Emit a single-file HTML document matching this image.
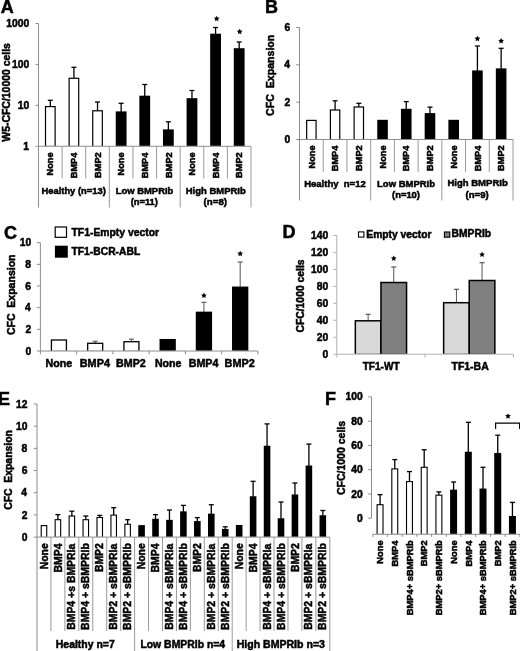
<!DOCTYPE html>
<html><head><meta charset="utf-8"><title>Figure</title>
<style>
html,body{margin:0;padding:0;background:#fff;}
body{width:520px;height:651px;overflow:hidden;}
svg{display:block;filter:grayscale(1);}
text{font-family:"Liberation Sans",sans-serif;font-weight:bold;fill:#000;stroke:#000;stroke-width:0.5px;}
</style></head>
<body>
<svg width="520" height="651" viewBox="0 0 520 651" shape-rendering="auto">
<text transform="translate(0.65,12.90) scale(1,1.02)" font-size="18.00">A</text>
<line x1="38.50" y1="23.50" x2="38.50" y2="207.50" stroke="#8c8c8c" stroke-width="1.0"/>
<line x1="35.50" y1="23.50" x2="38.50" y2="23.50" stroke="#8c8c8c" stroke-width="1.0"/>
<text transform="translate(6.32,27.09) scale(1,1.02)" font-size="10.30">1000</text>
<line x1="35.50" y1="64.40" x2="38.50" y2="64.40" stroke="#8c8c8c" stroke-width="1.0"/>
<text transform="translate(12.04,67.99) scale(1,1.02)" font-size="10.30">100</text>
<line x1="35.50" y1="105.30" x2="38.50" y2="105.30" stroke="#8c8c8c" stroke-width="1.0"/>
<text transform="translate(17.78,108.89) scale(1,1.02)" font-size="10.30">10</text>
<line x1="35.50" y1="146.30" x2="38.50" y2="146.30" stroke="#8c8c8c" stroke-width="1.0"/>
<text transform="translate(23.37,149.89) scale(1,1.02)" font-size="10.30">1</text>
<text transform="translate(9.99,141.63) rotate(-90)" font-size="10.43">W5-CFC/10000 cells</text>
<line x1="38.50" y1="146.30" x2="251.00" y2="146.30" stroke="#8c8c8c" stroke-width="1.0"/>
<line x1="50.31" y1="106.60" x2="50.31" y2="100.30" stroke="#000" stroke-width="1.3"/>
<line x1="47.81" y1="100.30" x2="52.81" y2="100.30" stroke="#000" stroke-width="1.3"/>
<rect x="44.91" y="106.00" width="10.80" height="39.80" fill="#000"/>
<rect x="46.11" y="107.20" width="8.40" height="38.60" fill="#fff"/>
<line x1="73.92" y1="78.30" x2="73.92" y2="67.30" stroke="#000" stroke-width="1.3"/>
<line x1="71.42" y1="67.30" x2="76.42" y2="67.30" stroke="#000" stroke-width="1.3"/>
<rect x="68.52" y="77.70" width="10.80" height="68.10" fill="#000"/>
<rect x="69.72" y="78.90" width="8.40" height="66.90" fill="#fff"/>
<line x1="97.53" y1="110.80" x2="97.53" y2="102.00" stroke="#000" stroke-width="1.3"/>
<line x1="95.03" y1="102.00" x2="100.03" y2="102.00" stroke="#000" stroke-width="1.3"/>
<rect x="92.13" y="110.20" width="10.80" height="35.60" fill="#000"/>
<rect x="93.33" y="111.40" width="8.40" height="34.40" fill="#fff"/>
<line x1="121.14" y1="112.00" x2="121.14" y2="103.30" stroke="#000" stroke-width="1.3"/>
<line x1="118.64" y1="103.30" x2="123.64" y2="103.30" stroke="#000" stroke-width="1.3"/>
<rect x="115.74" y="111.40" width="10.80" height="34.40" fill="#000"/>
<line x1="144.75" y1="96.30" x2="144.75" y2="84.50" stroke="#000" stroke-width="1.3"/>
<line x1="142.25" y1="84.50" x2="147.25" y2="84.50" stroke="#000" stroke-width="1.3"/>
<rect x="139.35" y="95.70" width="10.80" height="50.10" fill="#000"/>
<line x1="168.36" y1="130.00" x2="168.36" y2="121.80" stroke="#000" stroke-width="1.3"/>
<line x1="165.86" y1="121.80" x2="170.86" y2="121.80" stroke="#000" stroke-width="1.3"/>
<rect x="162.96" y="129.40" width="10.80" height="16.40" fill="#000"/>
<line x1="191.97" y1="98.80" x2="191.97" y2="90.50" stroke="#000" stroke-width="1.3"/>
<line x1="189.47" y1="90.50" x2="194.47" y2="90.50" stroke="#000" stroke-width="1.3"/>
<rect x="186.57" y="98.20" width="10.80" height="47.60" fill="#000"/>
<line x1="215.58" y1="34.30" x2="215.58" y2="27.50" stroke="#000" stroke-width="1.3"/>
<line x1="213.08" y1="27.50" x2="218.08" y2="27.50" stroke="#000" stroke-width="1.3"/>
<rect x="210.18" y="33.70" width="10.80" height="112.10" fill="#000"/>
<polygon points="216.68,15.80 217.57,17.59 219.54,17.87 218.11,19.26 218.45,21.23 216.68,20.30 214.92,21.23 215.26,19.26 213.83,17.87 215.80,17.59" fill="#000"/>
<line x1="239.19" y1="48.80" x2="239.19" y2="42.00" stroke="#000" stroke-width="1.3"/>
<line x1="236.69" y1="42.00" x2="241.69" y2="42.00" stroke="#000" stroke-width="1.3"/>
<rect x="233.79" y="48.20" width="10.80" height="97.60" fill="#000"/>
<polygon points="239.69,28.80 240.58,30.59 242.55,30.87 241.12,32.26 241.46,34.23 239.69,33.30 237.93,34.23 238.27,32.26 236.84,30.87 238.81,30.59" fill="#000"/>
<line x1="62.11" y1="146.30" x2="62.11" y2="178.50" stroke="#9a9a9a" stroke-width="1.0"/>
<line x1="85.72" y1="146.30" x2="85.72" y2="178.50" stroke="#9a9a9a" stroke-width="1.0"/>
<line x1="109.33" y1="146.30" x2="109.33" y2="207.50" stroke="#9a9a9a" stroke-width="1.0"/>
<line x1="132.94" y1="146.30" x2="132.94" y2="178.50" stroke="#9a9a9a" stroke-width="1.0"/>
<line x1="156.56" y1="146.30" x2="156.56" y2="178.50" stroke="#9a9a9a" stroke-width="1.0"/>
<line x1="180.17" y1="146.30" x2="180.17" y2="207.50" stroke="#9a9a9a" stroke-width="1.0"/>
<line x1="203.78" y1="146.30" x2="203.78" y2="178.50" stroke="#9a9a9a" stroke-width="1.0"/>
<line x1="227.39" y1="146.30" x2="227.39" y2="178.50" stroke="#9a9a9a" stroke-width="1.0"/>
<line x1="251.00" y1="146.30" x2="251.00" y2="207.50" stroke="#9a9a9a" stroke-width="1.0"/>
<text transform="translate(53.47,175.40) rotate(-90)" font-size="9.20">None</text>
<text transform="translate(77.08,178.21) rotate(-90)" font-size="9.20">BMP4</text>
<text transform="translate(100.69,177.89) rotate(-90)" font-size="9.20">BMP2</text>
<text transform="translate(124.30,175.40) rotate(-90)" font-size="9.20">None</text>
<text transform="translate(147.91,178.21) rotate(-90)" font-size="9.20">BMP4</text>
<text transform="translate(171.53,177.89) rotate(-90)" font-size="9.20">BMP2</text>
<text transform="translate(195.14,175.40) rotate(-90)" font-size="9.20">None</text>
<text transform="translate(218.75,178.21) rotate(-90)" font-size="9.20">BMP4</text>
<text transform="translate(242.36,177.89) rotate(-90)" font-size="9.20">BMP2</text>
<text transform="translate(41.47,194.20) scale(1,1.02)" font-size="9.38">Healthy (n=13)</text>
<text transform="translate(115.76,194.10) scale(1,1.02)" font-size="9.43">Low BMPRIb</text>
<text transform="translate(130.73,204.90) scale(1,1.02)" font-size="9.33">(n=11)</text>
<text transform="translate(185.76,193.80) scale(1,1.02)" font-size="9.48">High BMPRIb</text>
<text transform="translate(203.61,204.60) scale(1,1.02)" font-size="9.71">(n=8)</text>
<text transform="translate(264.99,12.60) scale(1,1.02)" font-size="18.00">B</text>
<line x1="299.50" y1="27.50" x2="299.50" y2="200.50" stroke="#8c8c8c" stroke-width="1.0"/>
<line x1="296.20" y1="139.50" x2="299.50" y2="139.50" stroke="#8c8c8c" stroke-width="1.0"/>
<text transform="translate(284.60,143.09) scale(1,1.02)" font-size="10.30">0</text>
<line x1="296.20" y1="102.17" x2="299.50" y2="102.17" stroke="#8c8c8c" stroke-width="1.0"/>
<text transform="translate(284.60,105.76) scale(1,1.02)" font-size="10.30">2</text>
<line x1="296.20" y1="64.83" x2="299.50" y2="64.83" stroke="#8c8c8c" stroke-width="1.0"/>
<text transform="translate(284.23,68.43) scale(1,1.02)" font-size="10.30">4</text>
<line x1="296.20" y1="27.50" x2="299.50" y2="27.50" stroke="#8c8c8c" stroke-width="1.0"/>
<text transform="translate(284.54,31.09) scale(1,1.02)" font-size="10.30">6</text>
<text transform="translate(274.45,115.92) rotate(-90)" font-size="10.60" xml:space="preserve">CFC  Expansion</text>
<line x1="299.50" y1="139.50" x2="513.00" y2="139.50" stroke="#8c8c8c" stroke-width="1.0"/>
<rect x="306.06" y="119.80" width="10.60" height="19.20" fill="#000"/>
<rect x="307.26" y="121.00" width="8.20" height="18.00" fill="#fff"/>
<line x1="335.08" y1="110.00" x2="335.08" y2="100.80" stroke="#000" stroke-width="1.3"/>
<line x1="332.58" y1="100.80" x2="337.58" y2="100.80" stroke="#000" stroke-width="1.3"/>
<rect x="329.78" y="109.40" width="10.60" height="29.60" fill="#000"/>
<rect x="330.98" y="110.60" width="8.20" height="28.40" fill="#fff"/>
<line x1="358.81" y1="107.00" x2="358.81" y2="103.30" stroke="#000" stroke-width="1.3"/>
<line x1="356.31" y1="103.30" x2="361.31" y2="103.30" stroke="#000" stroke-width="1.3"/>
<rect x="353.51" y="106.40" width="10.60" height="32.60" fill="#000"/>
<rect x="354.71" y="107.60" width="8.20" height="31.40" fill="#fff"/>
<rect x="377.23" y="119.80" width="10.60" height="19.20" fill="#000"/>
<line x1="406.25" y1="109.40" x2="406.25" y2="101.60" stroke="#000" stroke-width="1.3"/>
<line x1="403.75" y1="101.60" x2="408.75" y2="101.60" stroke="#000" stroke-width="1.3"/>
<rect x="400.95" y="108.80" width="10.60" height="30.20" fill="#000"/>
<line x1="429.97" y1="113.70" x2="429.97" y2="107.10" stroke="#000" stroke-width="1.3"/>
<line x1="427.47" y1="107.10" x2="432.47" y2="107.10" stroke="#000" stroke-width="1.3"/>
<rect x="424.67" y="113.10" width="10.60" height="25.90" fill="#000"/>
<rect x="448.39" y="119.80" width="10.60" height="19.20" fill="#000"/>
<line x1="477.42" y1="71.00" x2="477.42" y2="46.00" stroke="#000" stroke-width="1.3"/>
<line x1="474.92" y1="46.00" x2="479.92" y2="46.00" stroke="#000" stroke-width="1.3"/>
<rect x="472.12" y="70.40" width="10.60" height="68.60" fill="#000"/>
<polygon points="477.42,35.70 478.30,37.49 480.27,37.77 478.84,39.16 479.18,41.13 477.42,40.20 475.65,41.13 475.99,39.16 474.56,37.77 476.53,37.49" fill="#000"/>
<line x1="501.14" y1="69.00" x2="501.14" y2="48.30" stroke="#000" stroke-width="1.3"/>
<line x1="498.64" y1="48.30" x2="503.64" y2="48.30" stroke="#000" stroke-width="1.3"/>
<rect x="495.84" y="68.40" width="10.60" height="70.60" fill="#000"/>
<polygon points="501.14,38.00 502.02,39.79 503.99,40.07 502.57,41.46 502.90,43.43 501.14,42.50 499.38,43.43 499.71,41.46 498.29,40.07 500.26,39.79" fill="#000"/>
<line x1="323.22" y1="139.50" x2="323.22" y2="172.00" stroke="#9a9a9a" stroke-width="1.0"/>
<line x1="346.94" y1="139.50" x2="346.94" y2="172.00" stroke="#9a9a9a" stroke-width="1.0"/>
<line x1="370.67" y1="139.50" x2="370.67" y2="200.50" stroke="#9a9a9a" stroke-width="1.0"/>
<line x1="394.39" y1="139.50" x2="394.39" y2="172.00" stroke="#9a9a9a" stroke-width="1.0"/>
<line x1="418.11" y1="139.50" x2="418.11" y2="172.00" stroke="#9a9a9a" stroke-width="1.0"/>
<line x1="441.83" y1="139.50" x2="441.83" y2="200.50" stroke="#9a9a9a" stroke-width="1.0"/>
<line x1="465.56" y1="139.50" x2="465.56" y2="172.00" stroke="#9a9a9a" stroke-width="1.0"/>
<line x1="489.28" y1="139.50" x2="489.28" y2="172.00" stroke="#9a9a9a" stroke-width="1.0"/>
<line x1="513.00" y1="139.50" x2="513.00" y2="200.50" stroke="#9a9a9a" stroke-width="1.0"/>
<text transform="translate(314.53,168.40) rotate(-90)" font-size="9.20">None</text>
<text transform="translate(338.25,171.21) rotate(-90)" font-size="9.20">BMP4</text>
<text transform="translate(361.97,170.89) rotate(-90)" font-size="9.20">BMP2</text>
<text transform="translate(385.69,168.40) rotate(-90)" font-size="9.20">None</text>
<text transform="translate(409.41,171.21) rotate(-90)" font-size="9.20">BMP4</text>
<text transform="translate(433.14,170.89) rotate(-90)" font-size="9.20">BMP2</text>
<text transform="translate(456.86,168.40) rotate(-90)" font-size="9.20">None</text>
<text transform="translate(480.58,171.21) rotate(-90)" font-size="9.20">BMP4</text>
<text transform="translate(504.30,170.89) rotate(-90)" font-size="9.20">BMP2</text>
<text transform="translate(304.16,186.90) scale(1,1.02)" font-size="9.52" xml:space="preserve">Healthy  n=12</text>
<text transform="translate(377.06,186.50) scale(1,1.02)" font-size="9.50">Low BMPRIb</text>
<text transform="translate(392.03,197.60) scale(1,1.02)" font-size="9.40">(n=10)</text>
<text transform="translate(447.46,186.40) scale(1,1.02)" font-size="9.53">High BMPRIb</text>
<text transform="translate(465.62,197.70) scale(1,1.02)" font-size="9.54">(n=9)</text>
<text transform="translate(3.88,238.60) scale(1,1.02)" font-size="18.00">C</text>
<line x1="40.40" y1="242.70" x2="40.40" y2="351.00" stroke="#8c8c8c" stroke-width="1.0"/>
<line x1="36.90" y1="351.00" x2="40.40" y2="351.00" stroke="#8c8c8c" stroke-width="1.0"/>
<text transform="translate(25.40,354.59) scale(1,1.02)" font-size="10.30">0</text>
<line x1="36.90" y1="329.34" x2="40.40" y2="329.34" stroke="#8c8c8c" stroke-width="1.0"/>
<text transform="translate(25.40,332.93) scale(1,1.02)" font-size="10.30">2</text>
<line x1="36.90" y1="307.68" x2="40.40" y2="307.68" stroke="#8c8c8c" stroke-width="1.0"/>
<text transform="translate(25.03,311.27) scale(1,1.02)" font-size="10.30">4</text>
<line x1="36.90" y1="286.02" x2="40.40" y2="286.02" stroke="#8c8c8c" stroke-width="1.0"/>
<text transform="translate(25.34,289.61) scale(1,1.02)" font-size="10.30">6</text>
<line x1="36.90" y1="264.36" x2="40.40" y2="264.36" stroke="#8c8c8c" stroke-width="1.0"/>
<text transform="translate(25.29,267.95) scale(1,1.02)" font-size="10.30">8</text>
<line x1="36.90" y1="242.70" x2="40.40" y2="242.70" stroke="#8c8c8c" stroke-width="1.0"/>
<text transform="translate(19.68,246.29) scale(1,1.02)" font-size="10.30">10</text>
<text transform="translate(14.87,335.12) rotate(-90)" font-size="10.52" xml:space="preserve">CFC  Expansion</text>
<line x1="40.40" y1="351.00" x2="257.90" y2="351.00" stroke="#8c8c8c" stroke-width="1.0"/>
<line x1="40.40" y1="351.00" x2="40.40" y2="354.30" stroke="#8c8c8c" stroke-width="1.0"/>
<line x1="76.65" y1="351.00" x2="76.65" y2="354.30" stroke="#8c8c8c" stroke-width="1.0"/>
<line x1="112.90" y1="351.00" x2="112.90" y2="354.30" stroke="#8c8c8c" stroke-width="1.0"/>
<line x1="149.15" y1="351.00" x2="149.15" y2="354.30" stroke="#8c8c8c" stroke-width="1.0"/>
<line x1="185.40" y1="351.00" x2="185.40" y2="354.30" stroke="#8c8c8c" stroke-width="1.0"/>
<line x1="221.65" y1="351.00" x2="221.65" y2="354.30" stroke="#8c8c8c" stroke-width="1.0"/>
<line x1="257.90" y1="351.00" x2="257.90" y2="354.30" stroke="#8c8c8c" stroke-width="1.0"/>
<rect x="50.77" y="339.35" width="16.30" height="11.15" fill="#000"/>
<rect x="52.07" y="340.65" width="13.70" height="9.85" fill="#fff"/>
<line x1="95.18" y1="343.30" x2="95.18" y2="341.30" stroke="#555" stroke-width="1.0"/>
<line x1="92.68" y1="341.30" x2="97.68" y2="341.30" stroke="#555" stroke-width="1.1"/>
<rect x="87.03" y="342.65" width="16.30" height="7.85" fill="#000"/>
<rect x="88.33" y="343.95" width="13.70" height="6.55" fill="#fff"/>
<line x1="131.43" y1="341.70" x2="131.43" y2="339.20" stroke="#555" stroke-width="1.0"/>
<line x1="128.93" y1="339.20" x2="133.93" y2="339.20" stroke="#555" stroke-width="1.1"/>
<rect x="123.28" y="341.05" width="16.30" height="9.45" fill="#000"/>
<rect x="124.58" y="342.35" width="13.70" height="8.15" fill="#fff"/>
<rect x="159.53" y="338.95" width="16.30" height="11.55" fill="#000"/>
<line x1="203.93" y1="312.30" x2="203.93" y2="302.30" stroke="#555" stroke-width="1.0"/>
<line x1="201.43" y1="302.30" x2="206.43" y2="302.30" stroke="#555" stroke-width="1.1"/>
<rect x="195.78" y="311.65" width="16.30" height="38.85" fill="#000"/>
<polygon points="203.93,292.60 204.81,294.39 206.78,294.67 205.35,296.06 205.69,298.03 203.93,297.10 202.16,298.03 202.50,296.06 201.07,294.67 203.04,294.39" fill="#000"/>
<line x1="240.18" y1="287.20" x2="240.18" y2="262.00" stroke="#555" stroke-width="1.0"/>
<line x1="237.68" y1="262.00" x2="242.68" y2="262.00" stroke="#555" stroke-width="1.1"/>
<rect x="232.03" y="286.55" width="16.30" height="63.95" fill="#000"/>
<polygon points="240.18,250.80 241.06,252.59 243.03,252.87 241.60,254.26 241.94,256.23 240.18,255.30 238.41,256.23 238.75,254.26 237.32,252.87 239.29,252.59" fill="#000"/>
<text transform="translate(45.48,366.80) scale(1,1.02)" font-size="10.67">None</text>
<text transform="translate(79.77,366.80) scale(1,1.02)" font-size="10.87">BMP4</text>
<text transform="translate(116.08,366.80) scale(1,1.02)" font-size="10.71">BMP2</text>
<text transform="translate(154.89,366.80) scale(1,1.02)" font-size="10.58">None</text>
<text transform="translate(188.68,366.80) scale(1,1.02)" font-size="10.72">BMP4</text>
<text transform="translate(224.56,366.80) scale(1,1.02)" font-size="10.90">BMP2</text>
<rect x="55.20" y="227.00" width="11.30" height="10.30" fill="#fff" stroke="#000" stroke-width="1.2"/>
<text transform="translate(71.50,236.10) scale(1,1.02)" font-size="10.37">TF1-Empty vector</text>
<rect x="54.90" y="245.70" width="12.90" height="12.00" fill="#000" stroke="#000" stroke-width="0.0"/>
<text transform="translate(71.50,254.90) scale(1,1.02)" font-size="10.31">TF1-BCR-ABL</text>
<text transform="translate(282.49,238.00) scale(1,1.02)" font-size="18.00">D</text>
<line x1="336.80" y1="235.50" x2="336.80" y2="354.20" stroke="#b0b0b0" stroke-width="1.0"/>
<line x1="333.30" y1="354.20" x2="336.80" y2="354.20" stroke="#b0b0b0" stroke-width="1.0"/>
<text transform="translate(322.50,357.79) scale(1,1.02)" font-size="10.30">0</text>
<line x1="333.30" y1="337.24" x2="336.80" y2="337.24" stroke="#b0b0b0" stroke-width="1.0"/>
<text transform="translate(316.78,340.84) scale(1,1.02)" font-size="10.30">20</text>
<line x1="333.30" y1="320.29" x2="336.80" y2="320.29" stroke="#b0b0b0" stroke-width="1.0"/>
<text transform="translate(316.78,323.88) scale(1,1.02)" font-size="10.30">40</text>
<line x1="333.30" y1="303.33" x2="336.80" y2="303.33" stroke="#b0b0b0" stroke-width="1.0"/>
<text transform="translate(316.78,306.92) scale(1,1.02)" font-size="10.30">60</text>
<line x1="333.30" y1="286.37" x2="336.80" y2="286.37" stroke="#b0b0b0" stroke-width="1.0"/>
<text transform="translate(316.78,289.97) scale(1,1.02)" font-size="10.30">80</text>
<line x1="333.30" y1="269.41" x2="336.80" y2="269.41" stroke="#b0b0b0" stroke-width="1.0"/>
<text transform="translate(311.04,273.01) scale(1,1.02)" font-size="10.30">100</text>
<line x1="333.30" y1="252.46" x2="336.80" y2="252.46" stroke="#b0b0b0" stroke-width="1.0"/>
<text transform="translate(311.04,256.05) scale(1,1.02)" font-size="10.30">120</text>
<line x1="333.30" y1="235.50" x2="336.80" y2="235.50" stroke="#b0b0b0" stroke-width="1.0"/>
<text transform="translate(311.04,239.09) scale(1,1.02)" font-size="10.30">140</text>
<text transform="translate(303.56,332.51) rotate(-90)" font-size="10.35">CFC/1000 cells</text>
<line x1="336.80" y1="354.20" x2="513.40" y2="354.20" stroke="#b0b0b0" stroke-width="1.0"/>
<line x1="336.80" y1="354.20" x2="336.80" y2="357.50" stroke="#b0b0b0" stroke-width="1.0"/>
<line x1="425.10" y1="354.20" x2="425.10" y2="357.50" stroke="#b0b0b0" stroke-width="1.0"/>
<line x1="513.40" y1="354.20" x2="513.40" y2="357.50" stroke="#b0b0b0" stroke-width="1.0"/>
<line x1="368.15" y1="320.80" x2="368.15" y2="314.30" stroke="#555" stroke-width="1.0"/>
<line x1="365.65" y1="314.30" x2="370.65" y2="314.30" stroke="#555" stroke-width="1.2"/>
<rect x="354.60" y="320.05" width="27.10" height="33.65" fill="#000"/>
<rect x="356.10" y="321.55" width="24.10" height="32.15" fill="#d9d9d9"/>
<line x1="393.75" y1="282.50" x2="393.75" y2="267.00" stroke="#555" stroke-width="1.0"/>
<line x1="391.25" y1="267.00" x2="396.25" y2="267.00" stroke="#555" stroke-width="1.2"/>
<rect x="380.20" y="281.75" width="27.10" height="71.95" fill="#000"/>
<rect x="381.70" y="283.25" width="24.10" height="70.45" fill="#808080"/>
<polygon points="393.75,255.40 394.63,257.19 396.60,257.47 395.18,258.86 395.51,260.83 393.75,259.90 391.99,260.83 392.32,258.86 390.90,257.47 392.87,257.19" fill="#000"/>
<line x1="456.45" y1="302.70" x2="456.45" y2="289.30" stroke="#555" stroke-width="1.0"/>
<line x1="453.95" y1="289.30" x2="458.95" y2="289.30" stroke="#555" stroke-width="1.2"/>
<rect x="442.90" y="301.95" width="27.10" height="51.75" fill="#000"/>
<rect x="444.40" y="303.45" width="24.10" height="50.25" fill="#d9d9d9"/>
<line x1="482.05" y1="280.50" x2="482.05" y2="262.70" stroke="#555" stroke-width="1.0"/>
<line x1="479.55" y1="262.70" x2="484.55" y2="262.70" stroke="#555" stroke-width="1.2"/>
<rect x="468.50" y="279.75" width="27.10" height="73.95" fill="#000"/>
<rect x="470.00" y="281.25" width="24.10" height="72.45" fill="#808080"/>
<polygon points="482.05,251.60 482.93,253.39 484.90,253.67 483.48,255.06 483.81,257.03 482.05,256.10 480.29,257.03 480.62,255.06 479.20,253.67 481.17,253.39" fill="#000"/>
<text transform="translate(362.70,370.00) scale(1,1.02)" font-size="10.07">TF1-WT</text>
<text transform="translate(451.50,370.00) scale(1,1.02)" font-size="10.49">TF1-BA</text>
<rect x="358.50" y="231.90" width="5.40" height="5.20" fill="#fff" stroke="#000" stroke-width="1.1"/>
<text transform="translate(366.31,237.60) scale(1,1.02)" font-size="10.30">Empty vector</text>
<rect x="444.40" y="232.00" width="5.40" height="5.20" fill="#808080" stroke="#000" stroke-width="1.1"/>
<text transform="translate(451.60,237.30) scale(1,1.02)" font-size="10.31">BMPRIb</text>
<text transform="translate(-2.09,404.60) scale(1,1.02)" font-size="18.00">E</text>
<line x1="37.00" y1="404.00" x2="37.00" y2="651.00" stroke="#8c8c8c" stroke-width="1.0"/>
<line x1="33.70" y1="537.10" x2="37.00" y2="537.10" stroke="#8c8c8c" stroke-width="1.0"/>
<text transform="translate(21.70,540.69) scale(1,1.02)" font-size="10.30">0</text>
<line x1="33.70" y1="514.92" x2="37.00" y2="514.92" stroke="#8c8c8c" stroke-width="1.0"/>
<text transform="translate(21.70,518.51) scale(1,1.02)" font-size="10.30">2</text>
<line x1="33.70" y1="492.73" x2="37.00" y2="492.73" stroke="#8c8c8c" stroke-width="1.0"/>
<text transform="translate(21.34,496.33) scale(1,1.02)" font-size="10.30">4</text>
<line x1="33.70" y1="470.55" x2="37.00" y2="470.55" stroke="#8c8c8c" stroke-width="1.0"/>
<text transform="translate(21.64,474.14) scale(1,1.02)" font-size="10.30">6</text>
<line x1="33.70" y1="448.37" x2="37.00" y2="448.37" stroke="#8c8c8c" stroke-width="1.0"/>
<text transform="translate(21.59,451.96) scale(1,1.02)" font-size="10.30">8</text>
<line x1="33.70" y1="426.18" x2="37.00" y2="426.18" stroke="#8c8c8c" stroke-width="1.0"/>
<text transform="translate(15.98,429.78) scale(1,1.02)" font-size="10.30">10</text>
<line x1="33.70" y1="404.00" x2="37.00" y2="404.00" stroke="#8c8c8c" stroke-width="1.0"/>
<text transform="translate(15.98,407.59) scale(1,1.02)" font-size="10.30">12</text>
<text transform="translate(12.18,509.82) rotate(-90)" font-size="10.40" xml:space="preserve">CFC  Expansion</text>
<line x1="37.00" y1="537.10" x2="329.80" y2="537.10" stroke="#8c8c8c" stroke-width="1.0"/>
<rect x="40.67" y="525.05" width="6.60" height="11.55" fill="#000"/>
<rect x="41.77" y="526.15" width="4.40" height="10.45" fill="#fff"/>
<line x1="57.91" y1="519.70" x2="57.91" y2="514.60" stroke="#000" stroke-width="1.3"/>
<line x1="55.41" y1="514.60" x2="60.41" y2="514.60" stroke="#000" stroke-width="1.3"/>
<rect x="54.61" y="519.15" width="6.60" height="17.45" fill="#000"/>
<rect x="55.71" y="520.25" width="4.40" height="16.35" fill="#fff"/>
<line x1="71.86" y1="516.00" x2="71.86" y2="511.20" stroke="#000" stroke-width="1.3"/>
<line x1="69.36" y1="511.20" x2="74.36" y2="511.20" stroke="#000" stroke-width="1.3"/>
<rect x="68.56" y="515.45" width="6.60" height="21.15" fill="#000"/>
<rect x="69.66" y="516.55" width="4.40" height="20.05" fill="#fff"/>
<line x1="85.80" y1="519.70" x2="85.80" y2="516.00" stroke="#000" stroke-width="1.3"/>
<line x1="83.30" y1="516.00" x2="88.30" y2="516.00" stroke="#000" stroke-width="1.3"/>
<rect x="82.50" y="519.15" width="6.60" height="17.45" fill="#000"/>
<rect x="83.60" y="520.25" width="4.40" height="16.35" fill="#fff"/>
<line x1="99.74" y1="517.50" x2="99.74" y2="515.40" stroke="#000" stroke-width="1.3"/>
<line x1="97.24" y1="515.40" x2="102.24" y2="515.40" stroke="#000" stroke-width="1.3"/>
<rect x="96.44" y="516.95" width="6.60" height="19.65" fill="#000"/>
<rect x="97.54" y="518.05" width="4.40" height="18.55" fill="#fff"/>
<line x1="113.69" y1="515.10" x2="113.69" y2="507.70" stroke="#000" stroke-width="1.3"/>
<line x1="111.19" y1="507.70" x2="116.19" y2="507.70" stroke="#000" stroke-width="1.3"/>
<rect x="110.39" y="514.55" width="6.60" height="22.05" fill="#000"/>
<rect x="111.49" y="515.65" width="4.40" height="20.95" fill="#fff"/>
<line x1="127.63" y1="524.30" x2="127.63" y2="519.70" stroke="#000" stroke-width="1.3"/>
<line x1="125.13" y1="519.70" x2="130.13" y2="519.70" stroke="#000" stroke-width="1.3"/>
<rect x="124.33" y="523.75" width="6.60" height="12.85" fill="#000"/>
<rect x="125.43" y="524.85" width="4.40" height="11.75" fill="#fff"/>
<rect x="138.27" y="525.15" width="6.60" height="11.45" fill="#000"/>
<line x1="155.51" y1="519.30" x2="155.51" y2="514.60" stroke="#000" stroke-width="1.3"/>
<line x1="153.01" y1="514.60" x2="158.01" y2="514.60" stroke="#000" stroke-width="1.3"/>
<rect x="152.21" y="518.75" width="6.60" height="17.85" fill="#000"/>
<line x1="169.46" y1="520.40" x2="169.46" y2="510.00" stroke="#000" stroke-width="1.3"/>
<line x1="166.96" y1="510.00" x2="171.96" y2="510.00" stroke="#000" stroke-width="1.3"/>
<rect x="166.16" y="519.85" width="6.60" height="16.75" fill="#000"/>
<line x1="183.40" y1="511.90" x2="183.40" y2="505.40" stroke="#000" stroke-width="1.3"/>
<line x1="180.90" y1="505.40" x2="185.90" y2="505.40" stroke="#000" stroke-width="1.3"/>
<rect x="180.10" y="511.35" width="6.60" height="25.25" fill="#000"/>
<line x1="197.34" y1="521.60" x2="197.34" y2="517.60" stroke="#000" stroke-width="1.3"/>
<line x1="194.84" y1="517.60" x2="199.84" y2="517.60" stroke="#000" stroke-width="1.3"/>
<rect x="194.04" y="521.05" width="6.60" height="15.55" fill="#000"/>
<line x1="211.29" y1="514.20" x2="211.29" y2="504.70" stroke="#000" stroke-width="1.3"/>
<line x1="208.79" y1="504.70" x2="213.79" y2="504.70" stroke="#000" stroke-width="1.3"/>
<rect x="207.99" y="513.65" width="6.60" height="22.95" fill="#000"/>
<line x1="225.23" y1="529.50" x2="225.23" y2="526.80" stroke="#000" stroke-width="1.3"/>
<line x1="222.73" y1="526.80" x2="227.73" y2="526.80" stroke="#000" stroke-width="1.3"/>
<rect x="221.93" y="528.95" width="6.60" height="7.65" fill="#000"/>
<rect x="235.87" y="524.95" width="6.60" height="11.65" fill="#000"/>
<line x1="253.11" y1="496.80" x2="253.11" y2="481.30" stroke="#000" stroke-width="1.3"/>
<line x1="250.61" y1="481.30" x2="255.61" y2="481.30" stroke="#000" stroke-width="1.3"/>
<rect x="249.81" y="496.25" width="6.60" height="40.35" fill="#000"/>
<line x1="267.06" y1="446.30" x2="267.06" y2="423.90" stroke="#000" stroke-width="1.3"/>
<line x1="264.56" y1="423.90" x2="269.56" y2="423.90" stroke="#000" stroke-width="1.3"/>
<rect x="263.76" y="445.75" width="6.60" height="90.85" fill="#000"/>
<line x1="281.00" y1="518.80" x2="281.00" y2="502.00" stroke="#000" stroke-width="1.3"/>
<line x1="278.50" y1="502.00" x2="283.50" y2="502.00" stroke="#000" stroke-width="1.3"/>
<rect x="277.70" y="518.25" width="6.60" height="18.35" fill="#000"/>
<line x1="294.94" y1="495.00" x2="294.94" y2="483.00" stroke="#000" stroke-width="1.3"/>
<line x1="292.44" y1="483.00" x2="297.44" y2="483.00" stroke="#000" stroke-width="1.3"/>
<rect x="291.64" y="494.45" width="6.60" height="42.15" fill="#000"/>
<line x1="308.89" y1="466.10" x2="308.89" y2="444.10" stroke="#000" stroke-width="1.3"/>
<line x1="306.39" y1="444.10" x2="311.39" y2="444.10" stroke="#000" stroke-width="1.3"/>
<rect x="305.59" y="465.55" width="6.60" height="71.05" fill="#000"/>
<line x1="322.83" y1="515.80" x2="322.83" y2="510.50" stroke="#000" stroke-width="1.3"/>
<line x1="320.33" y1="510.50" x2="325.33" y2="510.50" stroke="#000" stroke-width="1.3"/>
<rect x="319.53" y="515.25" width="6.60" height="21.35" fill="#000"/>
<line x1="50.94" y1="537.10" x2="50.94" y2="631.00" stroke="#9a9a9a" stroke-width="1.0"/>
<line x1="64.89" y1="537.10" x2="64.89" y2="631.00" stroke="#9a9a9a" stroke-width="1.0"/>
<line x1="78.83" y1="537.10" x2="78.83" y2="631.00" stroke="#9a9a9a" stroke-width="1.0"/>
<line x1="92.77" y1="537.10" x2="92.77" y2="631.00" stroke="#9a9a9a" stroke-width="1.0"/>
<line x1="106.71" y1="537.10" x2="106.71" y2="631.00" stroke="#9a9a9a" stroke-width="1.0"/>
<line x1="120.66" y1="537.10" x2="120.66" y2="631.00" stroke="#9a9a9a" stroke-width="1.0"/>
<line x1="134.60" y1="537.10" x2="134.60" y2="651.00" stroke="#9a9a9a" stroke-width="1.0"/>
<line x1="148.54" y1="537.10" x2="148.54" y2="631.00" stroke="#9a9a9a" stroke-width="1.0"/>
<line x1="162.49" y1="537.10" x2="162.49" y2="631.00" stroke="#9a9a9a" stroke-width="1.0"/>
<line x1="176.43" y1="537.10" x2="176.43" y2="631.00" stroke="#9a9a9a" stroke-width="1.0"/>
<line x1="190.37" y1="537.10" x2="190.37" y2="631.00" stroke="#9a9a9a" stroke-width="1.0"/>
<line x1="204.31" y1="537.10" x2="204.31" y2="631.00" stroke="#9a9a9a" stroke-width="1.0"/>
<line x1="218.26" y1="537.10" x2="218.26" y2="631.00" stroke="#9a9a9a" stroke-width="1.0"/>
<line x1="232.20" y1="537.10" x2="232.20" y2="651.00" stroke="#9a9a9a" stroke-width="1.0"/>
<line x1="246.14" y1="537.10" x2="246.14" y2="631.00" stroke="#9a9a9a" stroke-width="1.0"/>
<line x1="260.09" y1="537.10" x2="260.09" y2="631.00" stroke="#9a9a9a" stroke-width="1.0"/>
<line x1="274.03" y1="537.10" x2="274.03" y2="631.00" stroke="#9a9a9a" stroke-width="1.0"/>
<line x1="287.97" y1="537.10" x2="287.97" y2="631.00" stroke="#9a9a9a" stroke-width="1.0"/>
<line x1="301.91" y1="537.10" x2="301.91" y2="631.00" stroke="#9a9a9a" stroke-width="1.0"/>
<line x1="315.86" y1="537.10" x2="315.86" y2="631.00" stroke="#9a9a9a" stroke-width="1.0"/>
<line x1="329.80" y1="537.10" x2="329.80" y2="651.00" stroke="#9a9a9a" stroke-width="1.0"/>
<text transform="translate(47.57,569.29) rotate(-90)" font-size="10.45">None</text>
<text transform="translate(61.51,572.47) rotate(-90)" font-size="10.45">BMP4</text>
<text transform="translate(75.45,629.82) rotate(-90)" font-size="10.45">BMP4 +s BMPRIa</text>
<text transform="translate(89.39,629.90) rotate(-90)" font-size="10.45">BMP4 + sBMPRIb</text>
<text transform="translate(103.34,572.11) rotate(-90)" font-size="10.45">BMP2</text>
<text transform="translate(117.28,629.82) rotate(-90)" font-size="10.45">BMP2 + sBMPRIa</text>
<text transform="translate(131.22,629.90) rotate(-90)" font-size="10.45">BMP2 + sBMPRIb</text>
<text transform="translate(145.17,569.29) rotate(-90)" font-size="10.45">None</text>
<text transform="translate(159.11,572.47) rotate(-90)" font-size="10.45">BMP4</text>
<text transform="translate(173.05,629.82) rotate(-90)" font-size="10.45">BMP4 + sBMPRIa</text>
<text transform="translate(186.99,629.90) rotate(-90)" font-size="10.45">BMP4 + sBMPRIb</text>
<text transform="translate(200.94,572.11) rotate(-90)" font-size="10.45">BMP2</text>
<text transform="translate(214.88,629.82) rotate(-90)" font-size="10.45">BMP2 + sBMPRIa</text>
<text transform="translate(228.82,629.90) rotate(-90)" font-size="10.45">BMP2 + sBMPRIb</text>
<text transform="translate(242.77,569.29) rotate(-90)" font-size="10.45">None</text>
<text transform="translate(256.71,572.47) rotate(-90)" font-size="10.45">BMP4</text>
<text transform="translate(270.65,629.82) rotate(-90)" font-size="10.45">BMP4 + sBMPRIa</text>
<text transform="translate(284.59,629.90) rotate(-90)" font-size="10.45">BMP4 + sBMPRIb</text>
<text transform="translate(298.54,572.11) rotate(-90)" font-size="10.45">BMP2</text>
<text transform="translate(312.48,629.82) rotate(-90)" font-size="10.45">BMP2 + sBMPRIa</text>
<text transform="translate(326.42,629.90) rotate(-90)" font-size="10.45">BMP2 + sBMPRIb</text>
<text transform="translate(55.79,648.20) scale(1,1.02)" font-size="10.45">Healthy n=7</text>
<text transform="translate(140.40,648.10) scale(1,1.02)" font-size="10.42">Low BMPRIb n=4</text>
<text transform="translate(236.69,648.00) scale(1,1.02)" font-size="10.57">High BMPRIb n=3</text>
<text transform="translate(324.89,404.90) scale(1,1.02)" font-size="18.00">F</text>
<line x1="371.50" y1="396.90" x2="371.50" y2="518.20" stroke="#8c8c8c" stroke-width="1.0"/>
<line x1="368.20" y1="518.20" x2="371.50" y2="518.20" stroke="#8c8c8c" stroke-width="1.0"/>
<text transform="translate(357.00,521.79) scale(1,1.02)" font-size="10.30">0</text>
<line x1="368.20" y1="493.94" x2="371.50" y2="493.94" stroke="#8c8c8c" stroke-width="1.0"/>
<text transform="translate(351.28,497.53) scale(1,1.02)" font-size="10.30">20</text>
<line x1="368.20" y1="469.68" x2="371.50" y2="469.68" stroke="#8c8c8c" stroke-width="1.0"/>
<text transform="translate(351.28,473.27) scale(1,1.02)" font-size="10.30">40</text>
<line x1="368.20" y1="445.42" x2="371.50" y2="445.42" stroke="#8c8c8c" stroke-width="1.0"/>
<text transform="translate(351.28,449.01) scale(1,1.02)" font-size="10.30">60</text>
<line x1="368.20" y1="421.16" x2="371.50" y2="421.16" stroke="#8c8c8c" stroke-width="1.0"/>
<text transform="translate(351.28,424.75) scale(1,1.02)" font-size="10.30">80</text>
<line x1="368.20" y1="396.90" x2="371.50" y2="396.90" stroke="#8c8c8c" stroke-width="1.0"/>
<text transform="translate(345.54,400.49) scale(1,1.02)" font-size="10.30">100</text>
<text transform="translate(345.07,495.12) rotate(-90)" font-size="10.52">CFC/1000 cells</text>
<line x1="372.70" y1="534.30" x2="520.00" y2="534.30" stroke="#8c8c8c" stroke-width="1.0"/>
<line x1="372.70" y1="534.30" x2="372.70" y2="536.90" stroke="#8c8c8c" stroke-width="1.0"/>
<line x1="387.41" y1="534.30" x2="387.41" y2="536.90" stroke="#8c8c8c" stroke-width="1.0"/>
<line x1="402.12" y1="534.30" x2="402.12" y2="536.90" stroke="#8c8c8c" stroke-width="1.0"/>
<line x1="416.83" y1="534.30" x2="416.83" y2="536.90" stroke="#8c8c8c" stroke-width="1.0"/>
<line x1="431.54" y1="534.30" x2="431.54" y2="536.90" stroke="#8c8c8c" stroke-width="1.0"/>
<line x1="446.25" y1="534.30" x2="446.25" y2="536.90" stroke="#8c8c8c" stroke-width="1.0"/>
<line x1="460.96" y1="534.30" x2="460.96" y2="536.90" stroke="#8c8c8c" stroke-width="1.0"/>
<line x1="475.67" y1="534.30" x2="475.67" y2="536.90" stroke="#8c8c8c" stroke-width="1.0"/>
<line x1="490.38" y1="534.30" x2="490.38" y2="536.90" stroke="#8c8c8c" stroke-width="1.0"/>
<line x1="505.09" y1="534.30" x2="505.09" y2="536.90" stroke="#8c8c8c" stroke-width="1.0"/>
<line x1="519.80" y1="534.30" x2="519.80" y2="536.90" stroke="#8c8c8c" stroke-width="1.0"/>
<line x1="380.06" y1="504.70" x2="380.06" y2="494.70" stroke="#000" stroke-width="1.3"/>
<line x1="377.56" y1="494.70" x2="382.56" y2="494.70" stroke="#000" stroke-width="1.3"/>
<rect x="376.56" y="504.15" width="7.00" height="29.65" fill="#000"/>
<rect x="377.66" y="505.25" width="4.80" height="28.55" fill="#fff"/>
<line x1="394.76" y1="468.90" x2="394.76" y2="459.60" stroke="#000" stroke-width="1.3"/>
<line x1="392.26" y1="459.60" x2="397.26" y2="459.60" stroke="#000" stroke-width="1.3"/>
<rect x="391.26" y="468.35" width="7.00" height="65.45" fill="#000"/>
<rect x="392.37" y="469.45" width="4.80" height="64.35" fill="#fff"/>
<line x1="409.47" y1="481.60" x2="409.47" y2="471.60" stroke="#000" stroke-width="1.3"/>
<line x1="406.97" y1="471.60" x2="411.97" y2="471.60" stroke="#000" stroke-width="1.3"/>
<rect x="405.97" y="481.05" width="7.00" height="52.75" fill="#000"/>
<rect x="407.07" y="482.15" width="4.80" height="51.65" fill="#fff"/>
<line x1="424.19" y1="467.30" x2="424.19" y2="449.70" stroke="#000" stroke-width="1.3"/>
<line x1="421.69" y1="449.70" x2="426.69" y2="449.70" stroke="#000" stroke-width="1.3"/>
<rect x="420.69" y="466.75" width="7.00" height="67.05" fill="#000"/>
<rect x="421.79" y="467.85" width="4.80" height="65.95" fill="#fff"/>
<line x1="438.89" y1="495.20" x2="438.89" y2="491.90" stroke="#000" stroke-width="1.3"/>
<line x1="436.39" y1="491.90" x2="441.39" y2="491.90" stroke="#000" stroke-width="1.3"/>
<rect x="435.39" y="494.65" width="7.00" height="39.15" fill="#000"/>
<rect x="436.50" y="495.75" width="4.80" height="38.05" fill="#fff"/>
<line x1="453.60" y1="490.20" x2="453.60" y2="482.00" stroke="#000" stroke-width="1.3"/>
<line x1="451.10" y1="482.00" x2="456.10" y2="482.00" stroke="#000" stroke-width="1.3"/>
<rect x="450.10" y="489.65" width="7.00" height="44.15" fill="#000"/>
<line x1="468.31" y1="452.30" x2="468.31" y2="422.30" stroke="#000" stroke-width="1.3"/>
<line x1="465.81" y1="422.30" x2="470.81" y2="422.30" stroke="#000" stroke-width="1.3"/>
<rect x="464.81" y="451.75" width="7.00" height="82.05" fill="#000"/>
<line x1="483.02" y1="489.10" x2="483.02" y2="467.30" stroke="#000" stroke-width="1.3"/>
<line x1="480.52" y1="467.30" x2="485.52" y2="467.30" stroke="#000" stroke-width="1.3"/>
<rect x="479.52" y="488.55" width="7.00" height="45.25" fill="#000"/>
<line x1="497.73" y1="453.50" x2="497.73" y2="435.20" stroke="#000" stroke-width="1.3"/>
<line x1="495.23" y1="435.20" x2="500.23" y2="435.20" stroke="#000" stroke-width="1.3"/>
<rect x="494.23" y="452.95" width="7.00" height="80.85" fill="#000"/>
<line x1="512.44" y1="516.50" x2="512.44" y2="502.40" stroke="#000" stroke-width="1.3"/>
<line x1="509.94" y1="502.40" x2="514.94" y2="502.40" stroke="#000" stroke-width="1.3"/>
<rect x="508.94" y="515.95" width="7.00" height="17.85" fill="#000"/>
<text transform="translate(383.27,563.67) rotate(-90)" font-size="9.35">None</text>
<text transform="translate(397.98,566.52) rotate(-90)" font-size="9.35">BMP4</text>
<text transform="translate(412.69,615.28) rotate(-90)" font-size="9.35">BMP4+ sBMPRIb</text>
<text transform="translate(427.40,566.20) rotate(-90)" font-size="9.35">BMP2</text>
<text transform="translate(442.11,615.28) rotate(-90)" font-size="9.35">BMP2+ sBMPRIb</text>
<text transform="translate(456.82,563.67) rotate(-90)" font-size="9.35">None</text>
<text transform="translate(471.53,566.52) rotate(-90)" font-size="9.35">BMP4</text>
<text transform="translate(486.24,615.28) rotate(-90)" font-size="9.35">BMP4+ sBMPRIb</text>
<text transform="translate(500.95,566.20) rotate(-90)" font-size="9.35">BMP2</text>
<text transform="translate(515.66,615.28) rotate(-90)" font-size="9.35">BMP2+ sBMPRIb</text>
<polyline points="495.6,429 495.6,423.2 519.6,423.2 519.6,429" fill="none" stroke="#000" stroke-width="1.2"/>
<polygon points="508.00,413.20 508.88,414.99 510.85,415.27 509.43,416.66 509.76,418.63 508.00,417.70 506.24,418.63 506.57,416.66 505.15,415.27 507.12,414.99" fill="#000"/>
</svg>
</body></html>
